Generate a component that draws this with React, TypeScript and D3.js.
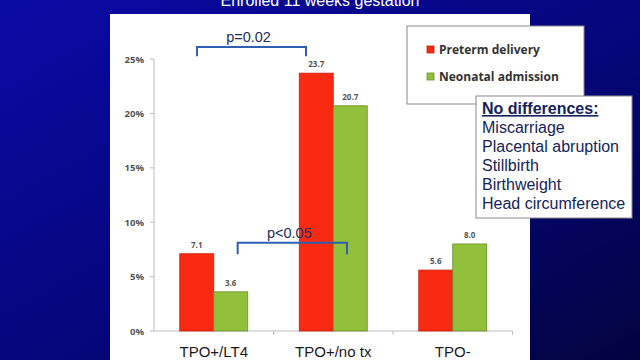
import React from "react";
import * as d3 from "d3";

const categories = ["TPO+/LT4", "TPO+/no tx", "TPO-"];
const seriesNames = ["Preterm delivery", "Neonatal admission"];
const preterm = [7.1, 23.7, 5.6];
const neonatal = [3.6, 20.7, 8.0];
const yTicks = [0, 5, 10, 15, 20, 25];
const noDiffTitle = "No differences:";
const noDiffItems = ["Miscarriage", "Placental abruption", "Stillbirth", "Birthweight", "Head circumference"];
const titleText = "Enrolled 11 weeks gestation";
// brackets: category + fraction of band for each end, value level of bar and of legs
const brackets = [
  { from: 0, fromFrac: 0.36, to: 1, toFrac: 0.272, level: 26.1, leg: 25.25, label: "p=0.02" },
  { from: 0, fromFrac: 0.70, to: 1, toFrac: 0.615, level: 8.1, leg: 7.05, label: "p<0.05" },
];

const colors = ["#f92a12", "#92bf3c"];
const strokes = ["#c8200c", "#6a8f28"];

export default function App() {
  const W = 640, H = 360;
  const y = d3.scaleLinear().domain([0, 25]).range([331, 59]);
  const x0 = d3.scaleBand<string>().domain(categories).range([154, 512.5]).padding(0);
  const step = x0.bandwidth();
  const x1 = d3.scaleBand<string>().domain(seriesNames).range([step * 0.2155, step * 0.7845]).padding(0);
  const bw = x1.bandwidth();
  const values = [preterm, neonatal];
  const bodyFont = "Liberation Sans, Arial, sans-serif";
  const calFont = "Open Sans, Lato, sans-serif";

  return (
    <svg width={W} height={H} style={{ position: "absolute", left: 0, top: 0, display: "block" }}>
      <defs>
        <linearGradient id="bg" x1="0" y1="0" x2="1" y2="1">
          <stop offset="0%" stopColor="#0a0aa6" />
          <stop offset="55%" stopColor="#06067a" />
          <stop offset="100%" stopColor="#03033f" />
        </linearGradient>
      </defs>
      <rect x={0} y={0} width={W} height={H} fill="url(#bg)" />
      <text x={320} y={6} textAnchor="middle" fill="#ffffff" fontFamily={bodyFont} fontSize={16}>{titleText}</text>
      <rect x={110} y={14} width={420} height={360} fill="#ffffff" />

      <line x1={154} x2={154} y1={y(25)} y2={y(0)} stroke="#bdbdbd" strokeWidth={1} />
      {yTicks.map((t) => (
        <g key={t}>
          <line x1={150} x2={154} y1={y(t)} y2={y(t)} stroke="#bdbdbd" />
          <text x={144} y={y(t) + 3.5} textAnchor="end" fontFamily={calFont} fontWeight="bold" fontSize={9.5} fill="#555">{t}%</text>
        </g>
      ))}
      <line x1={154} x2={512.5} y1={y(0)} y2={y(0)} stroke="#bdbdbd" />
      {categories.map((c) => (
        <line key={c} x1={(x0(c) as number) + step} x2={(x0(c) as number) + step} y1={y(0)} y2={y(0) + 4} stroke="#bdbdbd" />
      ))}

      {categories.map((c, i) => (
        <g key={c}>
          {seriesNames.map((s, j) => {
            const v = values[j][i];
            const bx = (x0(c) as number) + (x1(s) as number);
            return (
              <g key={s}>
                <rect x={bx} y={y(v)} width={bw} height={y(0) - y(v)} fill={colors[j]} stroke={strokes[j]} strokeWidth={0.8} />
                <text x={bx + bw / 2} y={y(v) - 6} textAnchor="middle" fontFamily={calFont} fontWeight="bold" fontSize={8} fill="#555">{v.toFixed(1)}</text>
              </g>
            );
          })}
          <text x={(x0(c) as number) + step / 2} y={357} textAnchor="middle" fontFamily={bodyFont} fontSize={15} fill="#1a1a1a">{c}</text>
        </g>
      ))}

      {brackets.map((b) => {
        const xa = (x0(categories[b.from]) as number) + b.fromFrac * step;
        const xb = (x0(categories[b.to]) as number) + b.toFrac * step;
        const yl = y(b.level), yg = y(b.leg);
        return (
          <g key={b.label}>
            <path d={`M${xa},${yg}V${yl}H${xb}V${yg}`} fill="none" stroke="#2f5fae" strokeWidth={2} />
            <text x={(xa + xb) / 2 - 3} y={yl - 5} textAnchor="middle" fontFamily={bodyFont} fontSize={14.5} fill="#1c2d5e">{b.label}</text>
          </g>
        );
      })}

      <rect x={407} y={26} width={177} height={78} fill="#ffffff" stroke="#8a8a8a" strokeWidth={1} />
      {seriesNames.map((s, j) => (
        <g key={s}>
          <rect x={427} y={46 + j * 27} width={7} height={7} fill={colors[j]} stroke={strokes[j]} strokeWidth={0.8} />
          <text x={439} y={53.5 + j * 27} fontFamily={calFont} fontWeight="bold" fontSize={12} fill="#333">{s}</text>
        </g>
      ))}

      <rect x={476} y={96} width={156} height={122} fill="#ffffff" stroke="#8a8a8a" strokeWidth={1} />
      <text x={482} y={114} fontFamily={bodyFont} fontWeight="bold" fontSize={16} fill="#14245a" textDecoration="underline">{noDiffTitle}</text>
      {noDiffItems.map((t, i) => (
        <text key={t} x={482} y={133 + i * 19} fontFamily={bodyFont} fontSize={16} fill="#14245a">{t}</text>
      ))}
    </svg>
  );
}
